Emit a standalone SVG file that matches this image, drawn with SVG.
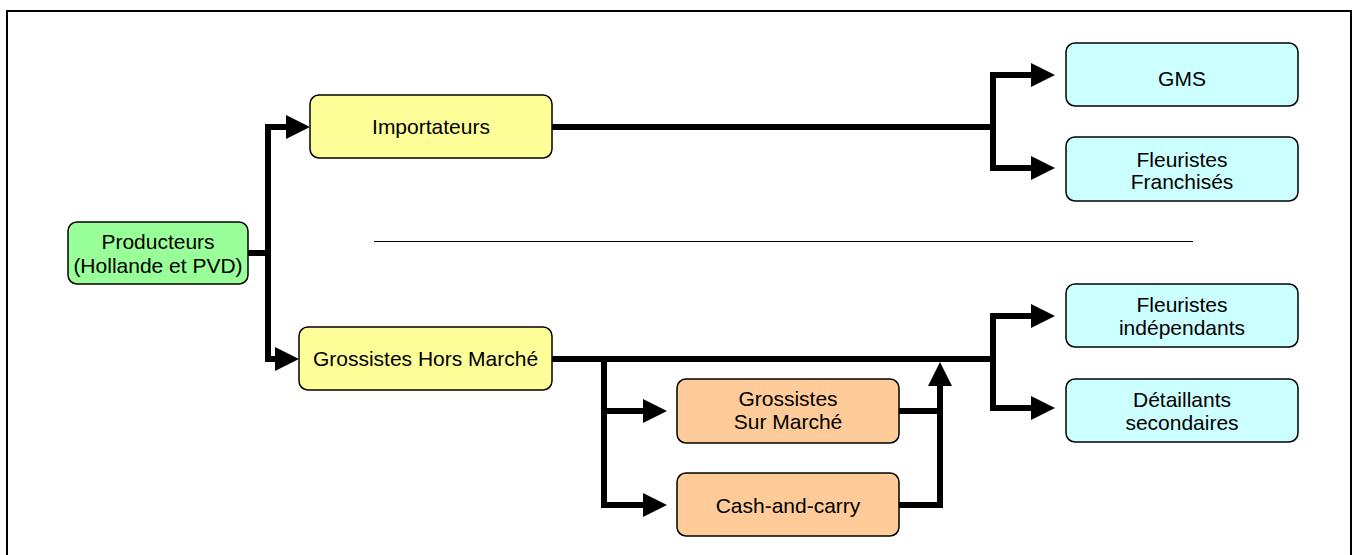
<svg xmlns="http://www.w3.org/2000/svg" width="1354" height="555" viewBox="0 0 1354 555">
<style>
.box{stroke:#000;stroke-width:1.5}
.t{font-family:"Liberation Sans",Arial,sans-serif;font-size:21px;fill:#000;text-anchor:middle}
.c{fill:none;stroke:#000;stroke-width:6;stroke-linejoin:miter}
</style>
<defs>
<marker id="ah" markerUnits="userSpaceOnUse" markerWidth="24" markerHeight="24" viewBox="0 0 24 24" refX="4" refY="12" orient="auto">
<path d="M0,0 L24,12 L0,24 Z" fill="#000"/>
</marker>
</defs>
<rect x="0" y="0" width="1354" height="555" fill="#fff"/>
<rect x="7" y="11" width="1344" height="560" fill="none" stroke="#000" stroke-width="2"/>
<line x1="374" y1="241.5" x2="1193" y2="241.5" stroke="#000" stroke-width="1"/>
<g id="connectors">
<path class="c" d="M248,253 H268 V127 H290" marker-end="url(#ah)"/>
<path class="c" d="M268,253 V359 H279" marker-end="url(#ah)"/>
<path class="c" d="M552,127 H993"/>
<path class="c" d="M993,127 V75 H1035" marker-end="url(#ah)"/>
<path class="c" d="M993,127 V168 H1035" marker-end="url(#ah)"/>
<path class="c" d="M552,359 H993"/>
<path class="c" d="M993,359 V316 H1035" marker-end="url(#ah)"/>
<path class="c" d="M993,359 V408 H1035" marker-end="url(#ah)"/>
<path class="c" d="M604,359 V505 H647" marker-end="url(#ah)"/>
<path class="c" d="M604,411 H647" marker-end="url(#ah)"/>
<path class="c" d="M899,411 H940"/>
<path class="c" d="M899,505 H940 V382" marker-end="url(#ah)"/>
</g>
<g id="producteurs">
<rect class="box" x="68" y="222" width="180" height="62" rx="9" fill="#99FF99"/>
<text class="t" x="158" y="249">Producteurs</text>
<text class="t" x="158" y="273">(Hollande et PVD)</text>
</g>
<g id="importateurs">
<rect class="box" x="310" y="95" width="242" height="63" rx="9" fill="#FFFF99"/>
<text class="t" x="431" y="134">Importateurs</text>
</g>
<g id="grossistes-hors-marche">
<rect class="box" x="299" y="327" width="253" height="63" rx="9" fill="#FFFF99"/>
<text class="t" x="425.5" y="366">Grossistes Hors Marché</text>
</g>
<g id="grossistes-sur-marche">
<rect class="box" x="677" y="379" width="222" height="64" rx="9" fill="#FFCC99"/>
<text class="t" x="788" y="406">Grossistes</text>
<text class="t" x="788" y="429">Sur Marché</text>
</g>
<g id="cash-and-carry">
<rect class="box" x="677" y="473" width="222" height="63" rx="9" fill="#FFCC99"/>
<text class="t" x="788" y="513">Cash-and-carry</text>
</g>
<g id="gms">
<rect class="box" x="1066" y="43" width="232" height="63" rx="9" fill="#CCFFFF"/>
<text class="t" x="1182" y="86">GMS</text>
</g>
<g id="fleuristes-franchises">
<rect class="box" x="1066" y="137" width="232" height="64" rx="9" fill="#CCFFFF"/>
<text class="t" x="1182" y="167">Fleuristes</text>
<text class="t" x="1182" y="189">Franchisés</text>
</g>
<g id="fleuristes-independants">
<rect class="box" x="1066" y="284" width="232" height="63" rx="9" fill="#CCFFFF"/>
<text class="t" x="1182" y="312">Fleuristes</text>
<text class="t" x="1182" y="335">indépendants</text>
</g>
<g id="detaillants-secondaires">
<rect class="box" x="1066" y="379" width="232" height="63" rx="9" fill="#CCFFFF"/>
<text class="t" x="1182" y="407">Détaillants</text>
<text class="t" x="1182" y="430">secondaires</text>
</g>
</svg>
